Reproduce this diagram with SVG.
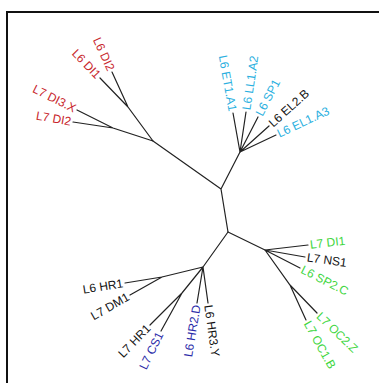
<svg xmlns="http://www.w3.org/2000/svg" width="379" height="383" viewBox="0 0 379 383">
<style>
.e{stroke:#222;stroke-width:1.2;fill:none;stroke-linecap:round}
text{font-family:"Liberation Sans",Arial,sans-serif;font-size:12px;dominant-baseline:central}
.r{fill:#c8262c}.c{fill:#2ab0e0}.g{fill:#3ed63e}.b{fill:#111}.u{fill:#2a2aa8}
.s{text-anchor:start}.n{text-anchor:end}
</style>
<rect width="379" height="383" fill="#fff"/>
<path d="M7,383 V12 H379" stroke="#111" stroke-width="2" fill="none"/>
<g id="edges">
<path class="e" d="M221,189 L153,141 M221,189 L240,152 M221,189 L228,232"/>
<path class="e" d="M153,141 L128,107 L112,72 M128,107 L100,78 M153,141 L113,128 L77,110 M113,128 L73,122"/>
<path class="e" d="M240,152 L233,113 M240,152 L246,112 M240,152 L258,117 M240,152 L269,126 M240,152 L276,135"/>
<path class="e" d="M228,232 L265,250 M228,232 L203,267"/>
<path class="e" d="M265,250 L308,245 M265,250 L305,257 M265,250 L300,268 M265,250 L290,285 L317,313 M290,285 L306,320"/>
<path class="e" d="M203,267 L162,277 L125,283 M162,277 L130,295 M203,267 L182,293 L150,325 M182,293 L161,331 M203,267 L197,303 M203,267 L208,303"/>
</g>
<g id="n_L6DI2"><text class="r n" transform="translate(112,72) rotate(65.4)" x="-2">L6 DI2</text></g>
<g id="n_L6DI1"><text class="r n" transform="translate(100,78) rotate(46)" x="-2">L6 DI1</text></g>
<g id="n_L7DI3X"><text class="r n" transform="translate(77,110) rotate(26.6)" x="-2">L7 DI3.X</text></g>
<g id="n_L7DI2"><text class="r n" transform="translate(73,122) rotate(10)" x="-2">L7 DI2</text></g>
<g id="n_L6ET1A1"><text class="c n" transform="translate(233,113) rotate(79.8)" x="-2">L6 ET1.A1</text></g>
<g id="n_L6LL1A2"><text class="c s" transform="translate(246,112) rotate(-81.5)" x="2">L6 LL1.A2</text></g>
<g id="n_L6SP1"><text class="c s" transform="translate(258,117) rotate(-62.8)" x="2">L6 SP1</text></g>
<g id="n_L6EL2B"><text class="b s" transform="translate(269,126) rotate(-41.9)" x="2">L6 EL2.B</text></g>
<g id="n_L6EL1A3"><text class="c s" transform="translate(276,135) rotate(-25.3)" x="2">L6 EL1.A3</text></g>
<g id="n_L7DI1"><text class="g s" transform="translate(308,245) rotate(-6.6)" x="2">L7 DI1</text></g>
<g id="n_L7NS1"><text class="b s" transform="translate(305,257) rotate(8)" x="2">L7 NS1</text></g>
<g id="n_L6SP2C"><text class="g s" transform="translate(300,268) rotate(27)" x="2">L6 SP2.C</text></g>
<g id="n_L7OC2Z"><text class="g s" transform="translate(317,313) rotate(44)" x="2">L7 OC2.Z</text></g>
<g id="n_L7OC1B"><text class="g s" transform="translate(306,320) rotate(61)" x="2">L7 OC1.B</text></g>
<g id="n_L6HR1"><text class="b n" transform="translate(125,283) rotate(-9)" x="-2">L6 HR1</text></g>
<g id="n_L7DM1"><text class="b n" transform="translate(130,295) rotate(-30)" x="-2">L7 DM1</text></g>
<g id="n_L7HR1"><text class="b n" transform="translate(150,325) rotate(-46)" x="-2">L7 HR1</text></g>
<g id="n_L7CS1"><text class="u n" transform="translate(161,331) rotate(-64)" x="-2">L7 CS1</text></g>
<g id="n_L6HR2D"><text class="u n" transform="translate(197,303) rotate(-80.5)" x="-2">L6 HR2.D</text></g>
<g id="n_L6HR3Y"><text class="b s" transform="translate(208,303) rotate(82)" x="2">L6 HR3.Y</text></g>
</svg>
